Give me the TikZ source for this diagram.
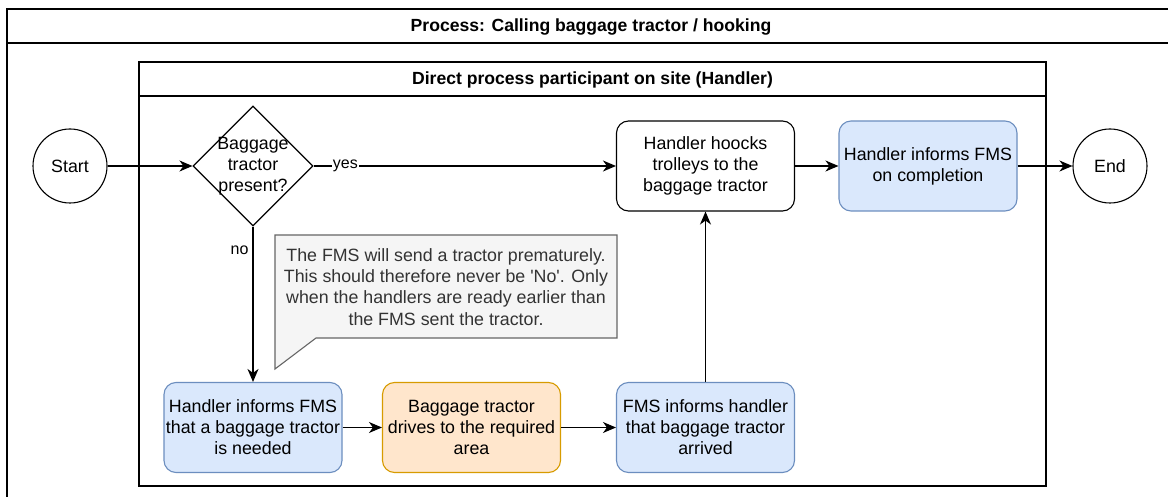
\documentclass[tikz,border=0pt]{standalone}
\usepackage{fontspec}
\setmainfont{Liberation Sans}
\usetikzlibrary{shapes.geometric,arrows.meta}

\definecolor{blueFill}{HTML}{DAE8FC}
\definecolor{blueLine}{HTML}{6C8EBF}
\definecolor{orangeFill}{HTML}{FFE6CC}
\definecolor{orangeLine}{HTML}{D79B00}
\definecolor{noteFill}{HTML}{F5F5F5}
\definecolor{noteLine}{HTML}{666666}
\definecolor{noteText}{HTML}{333333}

\tikzset{
  base/.style={font=\fontsize{17.8}{21.1}\selectfont, align=center},
  stepbox/.style={base, draw, line width=1.1pt, rounded corners=12pt,
    minimum width=178pt, minimum height=90pt, inner sep=1pt},
  bluebox/.style={stepbox, fill=blueFill, draw=blueLine},
  orangebox/.style={stepbox, fill=orangeFill, draw=orangeLine},
  whitebox/.style={stepbox, fill=white, draw=black},
  event/.style={base, circle, draw, line width=1.1pt, minimum size=74pt, inner sep=0pt},
  decision/.style={diamond, draw, line width=1.1pt, aspect=1, minimum width=120pt,
    minimum height=120pt, inner sep=0pt, fill=white},
  frame/.style={draw, line width=1.3pt},
  title/.style={font=\fontsize{17.6}{21.1}\selectfont\bfseries},
  flow/.style={line width=1.2pt, -{Stealth[length=13pt,width=11pt,inset=4pt]}},
  edgelabel/.style={font=\fontsize{16}{19}\selectfont, inner sep=1pt},
}

\begin{document}
\begin{tikzpicture}[x=1pt, y=-1pt]
  \clip (0,0) rectangle (1168,497);
  \fill[white] (0,0) rectangle (1168,497);

  % pool and lane frames
  \draw[frame] (7,9) rectangle (1175,520);
  \draw[frame] (7,43) -- (1175,43);
  \node[title] (pooltitle) at (591,27) {Process: Calling baggage tractor / hooking};

  \draw[frame] (139,62) rectangle (1046,486);
  \draw[frame] (139,96) -- (1046,96);
  \node[title] (lanetitle) at (592.5,80) {Direct process participant on site (Handler)};

  % events
  \node[event] (start) at (70,166) {Start};
  \node[event] (end) at (1110,166) {End};

  % decision
  \node[decision] (dec) at (253,166) {};
  \node[base] (dectext) at (253,166) {Baggage\\tractor\\present?};

  % activities
  \node[whitebox] (hook) at (705.5,166) {Handler hoocks\\trolleys to the\\baggage tractor};
  \node[bluebox] (done) at (928,166) {Handler informs FMS\\on completion};
  \node[bluebox] (request) at (253,427.5) {Handler informs FMS\\that a baggage tractor\\is needed};
  \node[orangebox] (drive) at (471.5,427.5) {Baggage tractor\\drives to the required\\area};
  \node[bluebox] (arrived) at (705.5,427.5) {FMS informs handler\\that baggage tractor\\arrived};

  % annotation callout
  \draw[line width=1.1pt, draw=noteLine, fill=noteFill]
    (275,235) -- (617,235) -- (617,338) -- (316,338) -- (275,369) -- cycle;
  \node[base, text=noteText] (note) at (446,287)
    {The FMS will send a tractor prematurely.\\This should therefore never be \textquotesingle No\textquotesingle. Only\\when the handlers are ready earlier than\\the FMS sent the tractor.};

  % sequence flows
  \draw[flow] (start) -- (dec);
  \draw[flow] (dec.east) -- node[edgelabel, fill=white, pos=0.105] (yeslabel) {yes} (hook.west);
  \draw[flow] (dec.south) -- node[edgelabel, pos=0.15, left=3pt] (nolabel) {no} (request.north);
  \draw[flow] (request) -- (drive);
  \draw[flow] (drive) -- (arrived);
  \draw[flow] (arrived) -- (hook);
  \draw[flow] (hook) -- (done);
  \draw[flow] (done) -- (end);
\end{tikzpicture}
\end{document}
